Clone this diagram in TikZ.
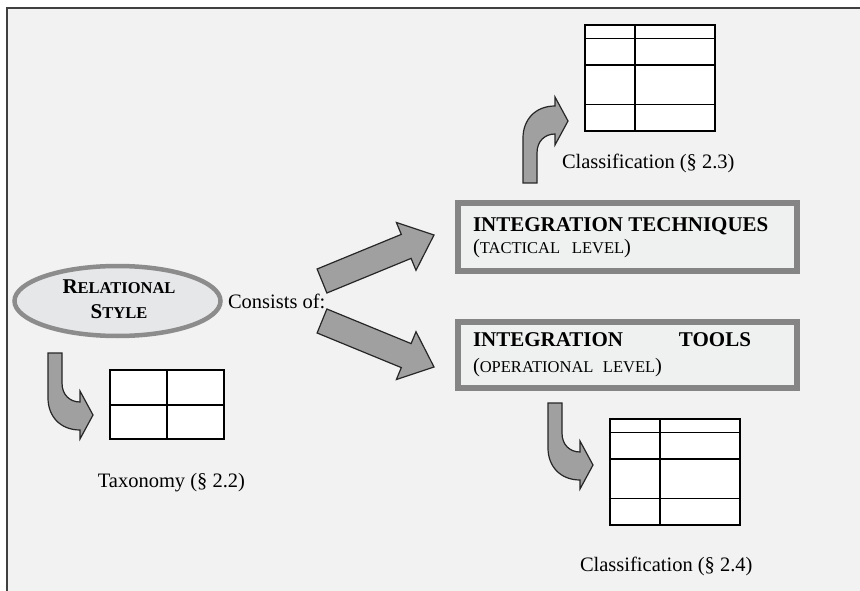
\documentclass[tikz,border=0pt]{standalone}
\usepackage{fontspec}
\setmainfont{Liberation Serif}
\usetikzlibrary{shapes.geometric}
\definecolor{bgc}{HTML}{F2F2F2}
\definecolor{framec}{HTML}{404040}
\definecolor{boxborder}{HTML}{858585}
\definecolor{boxfill}{HTML}{EFF0F0}
\definecolor{ellgray}{HTML}{8C8C8C}
\definecolor{ellfill}{HTML}{E6E7E9}
\definecolor{arrowgray}{HTML}{A0A0A0}
\newcommand\fakesc[2]{{\fontsize{21}{24}\selectfont #1}{\fontsize{16.5}{20}\selectfont #2}}
\newcommand\smc[1]{{\fontsize{16.5}{20}\selectfont #1}}
\begin{document}
\begin{tikzpicture}[x=1pt,y=-1pt,
  txt/.style={inner sep=0pt, outer sep=0pt, font=\fontsize{20.5}{24}\selectfont},
  txtb/.style={inner sep=0pt, outer sep=0pt, font=\fontsize{21}{24}\selectfont\bfseries},
  tbl/.style={draw=black, line width=1.3pt, fill=white},
  tblline/.style={draw=black, line width=1.3pt},
  blockarrow/.style={draw=black!85, line width=1.2pt, fill=arrowgray, line join=miter},
  levelbox/.style={draw=boxborder, line width=6pt, fill=boxfill, inner sep=0pt, anchor=north west},
  classtable/.pic={
    \draw[tbl] (0,0) rectangle (130,106);
    \draw[tblline] (0,13.5) -- (130,13.5) (0,40) -- (130,40) (0,79.5) -- (130,79.5) (50,0) -- (50,106);
  },
  bentarrow/.pic={
    \draw[blockarrow] (0,0) -- (14,0) -- (14,30) .. controls (14,42) and (22,49) .. (32,49)
      -- (32,38) -- (45,62) -- (32,86) -- (32,77) .. controls (12,77) and (0,63) .. (0,45) -- cycle;
  }
]
\useasboundingbox (0,0) rectangle (860,591);
\fill[white] (0,0) rectangle (860,591);
\fill[bgc] (7,8) rectangle (860,591);
\draw[framec, line width=1.6pt] (7,591) -- (7,8) -- (860,8);

% ellipse
\node[ellipse, draw=ellgray, line width=4.5pt, fill=ellfill, minimum width=206pt, minimum height=70pt, inner sep=0pt] (rs) at (117.5,301) {};
\node[txtb, anchor=base] (rs1) at (119,293) {\fakesc{R}{ELATIONAL}};
\node[txtb, anchor=base] (rs2) at (119,318) {\fakesc{S}{TYLE}};

\node[txt, anchor=base west] (cons) at (228,308) {Consists of:};

% left bent arrow and taxonomy table
\pic at (48,353) {bentarrow};
\draw[tbl] (110,370) rectangle (224,439);
\draw[tblline] (167,370) -- (167,439) (110,405) -- (224,405);
\node[txt, anchor=base east] (tax) at (245,487) {Taxonomy (§ 2.2)};

% straight block arrows
\draw[blockarrow] (317.1,269.0) -- (401.3,234.4) -- (396.4,222.5) -- (434,235) -- (416.0,270.3) -- (411.1,258.4) -- (326.9,293.0) -- cycle;
\draw[blockarrow] (317.1,333.0) -- (401.3,367.6) -- (396.4,379.5) -- (434,367) -- (416.0,331.7) -- (411.1,343.6) -- (326.9,309.0) -- cycle;

% level boxes
\node[levelbox, minimum width=339pt, minimum height=68pt] (tech) at (455,200) {};
\node[levelbox, minimum width=339pt, minimum height=66pt] (tools) at (455,319) {};
\node[txtb, anchor=base west] (t1) at (473,231) {INTEGRATION TECHNIQUES};
\node[txt, anchor=base west] (t2) at (473,253) {\makebox[158pt][s]{(\smc{TACTICAL}\hfill\smc{LEVEL})}};
\node[txtb, anchor=base west] (o1) at (473,346) {\makebox[278pt][s]{INTEGRATION\hfill TOOLS}};
\node[txt, anchor=base west] (o2) at (473,372) {\makebox[189pt][s]{(\smc{OPERATIONAL}\hfill\smc{LEVEL})}};

% top classification
\pic[yscale=-1] at (523,183) {bentarrow};
\pic at (585,25) {classtable};
\node[txt, anchor=base west] (c3) at (562,169) {Classification (§ 2.3)};

% bottom classification
\pic at (548,403) {bentarrow};
\pic at (610,419) {classtable};
\node[txt, anchor=base west] (c4) at (580,571) {Classification (§ 2.4)};
\end{tikzpicture}
\end{document}
